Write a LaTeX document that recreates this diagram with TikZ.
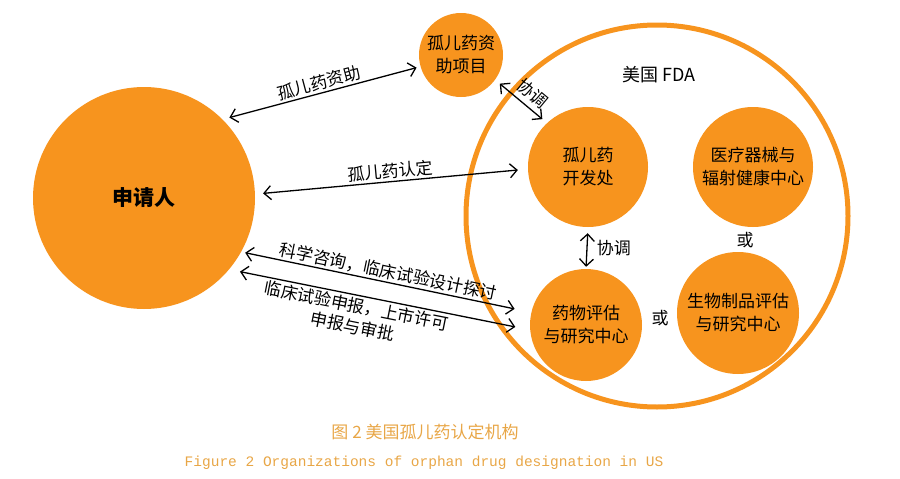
\documentclass[tikz,border=0pt]{standalone}
\usepackage{fontspec}
\newfontfamily\cjk{Noto Sans CJK SC}
\setmonofont{Liberation Mono}
\usepackage{xcolor}
\usepackage{tikz}
\usetikzlibrary{arrows.meta}
\definecolor{fdaorange}{RGB}{247,148,30}
\definecolor{capgold}{RGB}{232,166,70}

\begin{document}
\begin{tikzpicture}[x=1pt, y=-1pt,
		ball/.style={circle, fill=fdaorange, inner sep=0pt, align=center, font=\cjk\fontsize{17}{23}\selectfont},
		link/.style={{Straight Barb[length=7pt,width=14pt]}-{Straight Barb[length=7pt,width=14pt]}, line width=1.3pt},
		lbl/.style={font=\cjk\fontsize{17}{21}\selectfont, sloped, inner sep=2pt, align=center}]
			\useasboundingbox (0,0) rectangle (900,479);
			% FDA ring
			\node[circle, draw=fdaorange, line width=5pt, inner sep=0pt, minimum size=382pt] (fda) at (657,216) {};
			\node[font=\cjk\fontsize{18}{18}\selectfont] (fdalbl) at (659,75) {美国 FDA};
			% circles
			\node[ball, minimum size=222pt, font=\cjk\bfseries\fontsize{21}{21}\selectfont] (app) at (144,198) {申请人};
			\node[ball, minimum size=84pt] (fund) at (461,55) {孤儿药资\\助项目};
			\node[ball, minimum size=120pt] (odd) at (588,167) {孤儿药\\开发处};
			\node[ball, minimum size=120pt] (cdrh) at (753,167) {医疗器械与\\辐射健康中心};
			\node[ball, minimum size=112pt] (cder) at (586,325) {药物评估\\与研究中心};
			\node[ball, minimum size=122pt] (cber) at (738,313) {生物制品评估\\与研究中心};
			\node[font=\cjk\fontsize{17}{17}\selectfont] (or1) at (745,240) {或};
			\node[font=\cjk\fontsize{17}{17}\selectfont] (or2) at (660,318) {或};
			% arrows
			\draw[link, shorten <=7pt, shorten >=4pt] (app.45) -- node[lbl, above] {孤儿药资助} (fund.196);
			\draw[link, shorten <=8pt, shorten >=10pt] (app.2) -- node[lbl, above] {孤儿药认定} (odd.182);
			\draw[link, shorten <=4pt, shorten >=17pt] (app.-29) -- node[lbl, above] {科学咨询，临床试验设计探讨} (cder.167);
			\draw[link, shorten <=11pt, shorten >=15pt] (app.-40) -- node[lbl, below, pos=0.43] {临床试验申报，上市许可\\申报与审批} (cder.185);
			\draw[link, shorten <=6pt, shorten >=6pt] (fund.-36) -- node[lbl, above=3pt, pos=0.55] {协调} (odd.133);
			\draw[link, shorten <=6pt, shorten >=2pt] (odd.-90) -- node[right, font=\cjk\fontsize{17}{17}\selectfont, xshift=6pt] {协调} (cder.90);
			% caption
			\node[text=capgold, font=\cjk\fontsize{17}{17}\selectfont] (capzh) at (425,432) {图 2 美国孤儿药认定机构};
			\node[text=capgold, font=\ttfamily\fontsize{14.5}{16}\selectfont] (capen) at (424,463) {Figure 2 Organizations of orphan drug designation in US};
		\end{tikzpicture}
\end{document}
